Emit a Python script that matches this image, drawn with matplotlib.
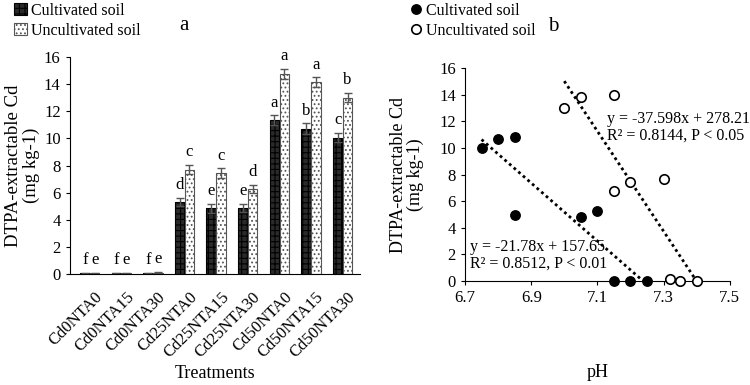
import numpy as np
import matplotlib.pyplot as plt

plt.rcParams['font.family'] = ['Liberation Serif', 'DejaVu Serif']
plt.rcParams['hatch.linewidth'] = 0.8

# panel a data
treat = ['Cd0NTA0', 'Cd0NTA15', 'Cd0NTA30', 'Cd25NTA0', 'Cd25NTA15', 'Cd25NTA30',
         'Cd50NTA0', 'Cd50NTA15', 'Cd50NTA30']
cult = [0.05, 0.05, 0.05, 5.3, 4.85, 4.85, 11.35, 10.7, 10.05]
uncult = [0.05, 0.05, 0.1, 7.7, 7.45, 6.25, 14.75, 14.15, 13.0]
cult_err = [0.02, 0.02, 0.02, 0.3, 0.35, 0.3, 0.35, 0.4, 0.35]
uncult_err = [0.02, 0.02, 0.05, 0.35, 0.35, 0.3, 0.35, 0.35, 0.35]
cult_let = ['f', 'f', 'f', 'd', 'e', 'e', 'a', 'b', 'c']
uncult_let = ['e', 'e', 'e', 'c', 'c', 'd', 'a', 'a', 'b']

# panel b data
ph_c = [6.75, 6.80, 6.85, 6.85, 7.05, 7.10, 7.15, 7.20, 7.25]
cd_c = [10.0, 10.7, 10.8, 4.95, 4.85, 5.3, 0.0, 0.0, 0.0]
ph_u = [7.00, 7.05, 7.15, 7.15, 7.20, 7.30, 7.32, 7.35, 7.40]
cd_u = [13.0, 13.8, 14.0, 6.8, 7.45, 7.7, 0.15, 0.0, 0.0]
fit_c = (-21.78, 157.65)
fit_u = (-37.598, 278.21)

fig = plt.figure(figsize=(7.5, 3.85), dpi=100)
ax1 = fig.add_axes([0.093, 0.288, 0.387, 0.564])
ax2 = fig.add_axes([0.62, 0.27, 0.353, 0.553])

x = np.arange(len(treat))
w = 0.3
ax1.bar(x - 0.155, cult, w, color='#2a2a2a', edgecolor='black', hatch='+++', lw=0.8,
        yerr=cult_err, error_kw=dict(ecolor='#555555', capsize=3, lw=1), label='Cultivated soil')
ax1.bar(x + 0.155, uncult, w, color='white', edgecolor='#555555', hatch='....', lw=0.8,
        yerr=uncult_err, error_kw=dict(ecolor='#555555', capsize=3, lw=1), label='Uncultivated soil')
for i in range(len(treat)):
    ax1.text(x[i] - 0.155, cult[i] + cult_err[i] + 0.35, cult_let[i], ha='center', va='bottom', fontsize=12)
    ax1.text(x[i] + 0.155, uncult[i] + uncult_err[i] + 0.35, uncult_let[i], ha='center', va='bottom', fontsize=12)

ax1.set_xlim(-0.63, 8.55)
ax1.set_ylim(0, 16)
ax1.set_yticks(range(0, 17, 2))
ax1.set_xticks(x + 0.15)
ax1.set_xticklabels(treat, rotation=45, ha='right', rotation_mode='anchor', fontsize=12)
ax1.tick_params(axis='x', length=0, pad=11)
ax1.tick_params(axis='y', labelsize=12, direction='out', length=3)
ax1.spines['top'].set_visible(False)
ax1.spines['right'].set_visible(False)
ax1.set_ylabel('DTPA-extractable Cd\n(mg kg-1)', fontsize=13.5, labelpad=3, linespacing=1.0)
ax1.set_xlabel('Treatments', fontsize=13)
ax1.xaxis.set_label_coords(0.5, -0.42)
ax1.legend(loc='upper left', bbox_to_anchor=(0.01, 1.01), bbox_transform=fig.transFigure,
           frameon=False, fontsize=11.5, handlelength=0.8, handleheight=0.8, handletextpad=0.3,
           labelspacing=0.25, borderaxespad=0)
fig.text(0.245, 0.935, 'a', fontsize=15, ha='center', va='center')

# panel b
ax2.plot(ph_c, cd_c, 'o', color='black', ms=6.8, label='Cultivated soil', clip_on=False, zorder=3)
ax2.plot(ph_u, cd_u, 'o', mfc='white', mec='black', mew=1.2, ms=6.8, label='Uncultivated soil',
         clip_on=False, zorder=3)
xc = np.array([min(ph_c), -fit_c[1] / fit_c[0]])
ax2.plot(xc, fit_c[0] * xc + fit_c[1], ls=(0, (1, 1.2)), color='black', lw=2)
xu = np.array([min(ph_u), max(ph_u)])
ax2.plot(xu, fit_u[0] * xu + fit_u[1], ls=(0, (1, 1.2)), color='black', lw=2)
ax2.text(7.13, 12.75, 'y = -37.598x + 278.21\nR² = 0.8144, P < 0.05', fontsize=11.5,
         ha='left', va='top', linespacing=1.05)
ax2.text(6.715, 3.15, 'y = -21.78x + 157.65\nR² = 0.8512, P < 0.01', fontsize=11.5,
         ha='left', va='top', linespacing=1.05)
ax2.set_xlim(6.7, 7.5)
ax2.set_ylim(0, 16)
ax2.set_xticks([6.7, 6.9, 7.1, 7.3, 7.5])
ax2.set_yticks(range(0, 17, 2))
ax2.tick_params(labelsize=12, direction='out', length=3)
ax2.spines['top'].set_visible(False)
ax2.spines['right'].set_visible(False)
ax2.set_ylabel('DTPA-extractable Cd\n(mg kg-1)', fontsize=13, labelpad=11, linespacing=1.0)
ax2.set_xlabel('pH', fontsize=13, labelpad=42)
ax2.legend(loc='upper left', bbox_to_anchor=(0.54, 1.01), bbox_transform=fig.transFigure,
           frameon=False, fontsize=11.5, handlelength=0.6, handletextpad=0.3,
           labelspacing=0.25, borderaxespad=0)
fig.text(0.737, 0.93, 'b', fontsize=15, ha='center', va='center')

fig.savefig('out.png', dpi=100)
